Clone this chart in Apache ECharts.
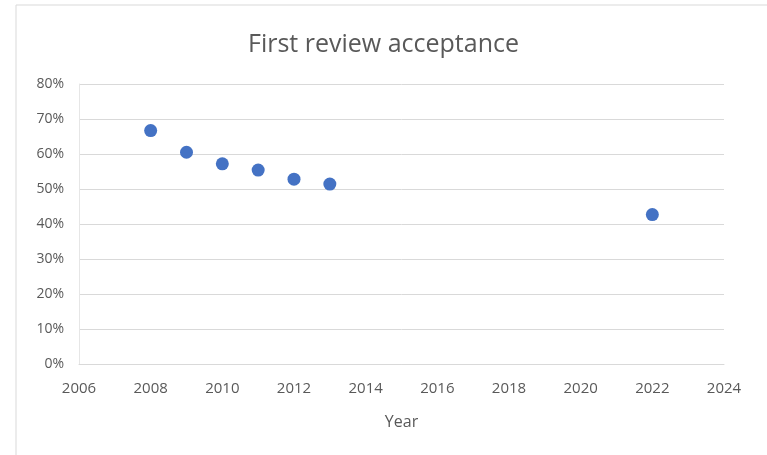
<!DOCTYPE html>
<html><head><meta charset="utf-8">
<script src="https://cdn.jsdelivr.net/npm/echarts@6/dist/echarts.min.js"></script>
<style>html,body{margin:0;padding:0;background:#fff}#c{width:767px;height:455px}</style>
</head><body><div id="c"></div>
<script>
const years = [2008, 2009, 2010, 2011, 2012, 2013, 2022];
const acceptance = [0.667, 0.605, 0.572, 0.554, 0.528, 0.514, 0.427];
const chart = echarts.init(document.getElementById('c'));
const font = '"Open Sans", "Noto Sans", sans-serif';
chart.setOption({
  animation: false,
  backgroundColor: '#fff',
  graphic: [{type:'rect', shape:{x:16,y:5,width:760,height:460}, style:{fill:'none', stroke:'#d9d9d9', lineWidth:1}, silent:true}],
  title: {text:'First review acceptance', left:'center', top:27, textStyle:{fontFamily:font, fontSize:25, fontWeight:'normal', color:'#595959'}},
  grid: {left:79, right:43, top:84, bottom:91},
  xAxis: {type:'value', min:2006, max:2024, interval:2, name:'Year', nameLocation:'middle', nameGap:50,
    nameTextStyle:{fontFamily:font, fontSize:16, color:'#595959'},
    axisLine:{show:true, onZero:false, lineStyle:{color:'#d9d9d9'}}, axisTick:{show:false},
    splitLine:{show:false},
    axisLabel:{fontFamily:font, fontSize:15, color:'#595959', margin:17, formatter:v=>String(v)}},
  yAxis: {type:'value', min:0, max:0.8, interval:0.1,
    axisLine:{show:true, lineStyle:{color:'#e6e6e6'}}, axisTick:{show:false},
    splitLine:{lineStyle:{color:'#d9d9d9'}},
    axisLabel:{fontFamily:font, fontSize:14, color:'#595959', margin:15, formatter:v=>Math.round(v*100)+'%'}},
  series: [{type:'scatter', data: years.map((y,i)=>[y, acceptance[i]]), symbolSize:13, itemStyle:{color:'#4472C4', opacity:1}}]
});
</script></body></html>
